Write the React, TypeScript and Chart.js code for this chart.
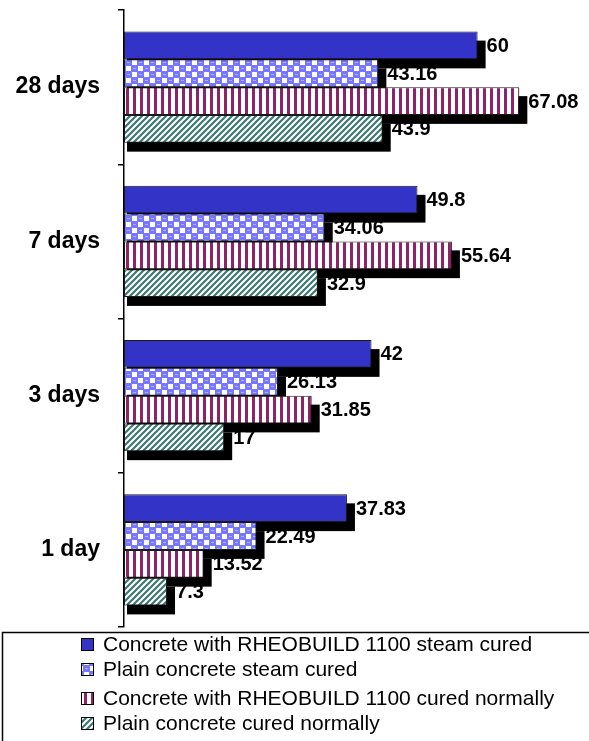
import React, { useEffect, useRef } from "react";
import { Chart, registerables } from "chart.js";

Chart.register(...registerables);

const categories = ["28 days", "7 days", "3 days", "1 day"];
const seriesNames = [
  "Concrete with RHEOBUILD 1100 steam cured",
  "Plain concrete steam cured",
  "Concrete with RHEOBUILD 1100 cured normally",
  "Plain concrete cured normally",
];
const rheoSteam = [60, 49.8, 42, 37.83];
const plainSteam = [43.16, 34.06, 26.13, 22.49];
const rheoNormal = [67.08, 55.64, 31.85, 13.52];
const plainNormal = [43.9, 32.9, 17, 7.3];
const valueLabels = [
  ["60", "49.8", "42", "37.83"],
  ["43.16", "34.06", "26.13", "22.49"],
  ["67.08", "55.64", "31.85", "13.52"],
  ["43.9", "32.9", "17", "7.3"],
];

const FONT = "'Liberation Sans', Arial, Helvetica, sans-serif";

function makeTile(w: number, h: number, draw: (c: CanvasRenderingContext2D) => void) {
  const cv = document.createElement("canvas");
  cv.width = w;
  cv.height = h;
  const c = cv.getContext("2d")!;
  draw(c);
  return c.createPattern(cv, "repeat")!;
}

function makeFills(): (string | CanvasPattern)[] {
  const solid = "#3333C8";
  const checker = makeTile(12, 12, (c) => {
    c.fillStyle = "#7676FF";
    c.fillRect(0, 0, 12, 12);
    c.fillStyle = "#ffffff";
    c.fillRect(0, 0, 5, 5);
    c.fillRect(6, 6, 5, 5);
    c.fillStyle = "#B0B0FF";
    c.fillRect(7, 2, 3, 1);
    c.fillRect(1, 8, 3, 1);
  });
  const stripes = makeTile(7, 7, (c) => {
    c.fillStyle = "#ffffff";
    c.fillRect(0, 0, 7, 7);
    c.fillStyle = "#8C2466";
    c.fillRect(0, 0, 3, 7);
  });
  const hatch = makeTile(6, 6, (c) => {
    c.fillStyle = "#ffffff";
    c.fillRect(0, 0, 6, 6);
    c.strokeStyle = "#3E7873";
    c.lineWidth = 2.2;
    c.beginPath();
    c.moveTo(-1, 7);
    c.lineTo(7, -1);
    c.moveTo(-4, 4);
    c.lineTo(4, -4);
    c.moveTo(2, 10);
    c.lineTo(10, 2);
    c.stroke();
  });
  return [solid, checker, stripes, hatch];
}

export default function App() {
  const ref = useRef<HTMLCanvasElement>(null);

  useEffect(() => {
    const canvas = ref.current!;
    const fills = makeFills();
    const series = [rheoSteam, plainSteam, rheoNormal, plainNormal];

    const shadowPlugin = {
      id: "shadows",
      beforeDatasetsDraw(chart: any) {
        const ctx = chart.ctx;
        ctx.save();
        ctx.fillStyle = "#000";
        chart.data.datasets.forEach((_: any, di: number) => {
          chart.getDatasetMeta(di).data.forEach((bar: any) => {
            const p = bar.getProps(["x", "y", "base", "height"], true);
            const top = p.y - p.height / 2;
            ctx.fillRect(p.base + 3, top + 9, p.x - p.base + 5, p.height);
          });
        });
        ctx.restore();
      },
      afterDatasetsDraw(chart: any) {
        const ctx = chart.ctx;
        ctx.save();
        ctx.fillStyle = "#000";
        ctx.font = `bold 20px ${FONT}`;
        ctx.textBaseline = "middle";
        ctx.textAlign = "left";
        chart.data.datasets.forEach((_: any, di: number) => {
          chart.getDatasetMeta(di).data.forEach((bar: any, i: number) => {
            const p = bar.getProps(["x", "y"], true);
            ctx.fillText(valueLabels[di][i], p.x + 9, p.y + 1);
          });
        });
        ctx.restore();
      },
      afterDraw(chart: any) {
        const ctx = chart.ctx;
        ctx.save();
        ctx.strokeStyle = "#000";
        ctx.lineWidth = 1.5;
        ctx.strokeRect(2.5, 632.5, 700, 200);
        const rows = [644, 669, 698, 723];
        ctx.font = `21px ${FONT}`;
        ctx.textBaseline = "middle";
        ctx.textAlign = "left";
        seriesNames.forEach((name, i) => {
          const cy = rows[i];
          ctx.fillStyle = fills[i] as any;
          ctx.fillRect(81, cy - 6, 13, 13);
          ctx.lineWidth = 1;
          ctx.strokeStyle = "#000";
          ctx.strokeRect(81.5, cy - 5.5, 12, 12);
          ctx.fillStyle = "#000";
          ctx.fillText(name, 103, cy + 1);
        });
        ctx.restore();
      },
    };

    const chart = new Chart(canvas, {
      type: "bar",
      data: {
        labels: categories,
        datasets: series.map((vals, i) => ({
          label: seriesNames[i],
          data: vals,
          backgroundColor: fills[i] as any,
          borderColor: "#1a1a1a",
          borderWidth: 1,
          borderSkipped: false,
          categoryPercentage: 0.72,
          barPercentage: 1,
        })),
      },
      options: {
        indexAxis: "y",
        animation: false,
        responsive: true,
        maintainAspectRatio: false,
        layout: { padding: { top: 10, bottom: 114, left: 0, right: 23 } },
        plugins: {
          legend: { display: false },
          tooltip: { enabled: false },
        },
        scales: {
          x: { display: false, min: 0, max: 75 },
          y: {
            afterFit(scale: any) {
              scale.width = 124;
              scale.paddingTop = 0;
              scale.paddingBottom = 0;
            },
            grid: {
              drawOnChartArea: false,
              drawTicks: true,
              tickLength: 6,
              color: "#000",
              lineWidth: 1.5,
              offset: true,
            },
            border: { display: true, color: "#000", width: 1.5 },
            ticks: {
              color: "#000",
              padding: 18,
              font: { family: FONT, size: 23, weight: "bold" },
            },
          },
        },
      },
      plugins: [shadowPlugin],
    });
    return () => chart.destroy();
  }, []);

  return (
    <div style={{ position: "absolute", left: 0, top: 0, width: 589, height: 741, background: "#fff" }}>
      <canvas ref={ref} />
    </div>
  );
}
